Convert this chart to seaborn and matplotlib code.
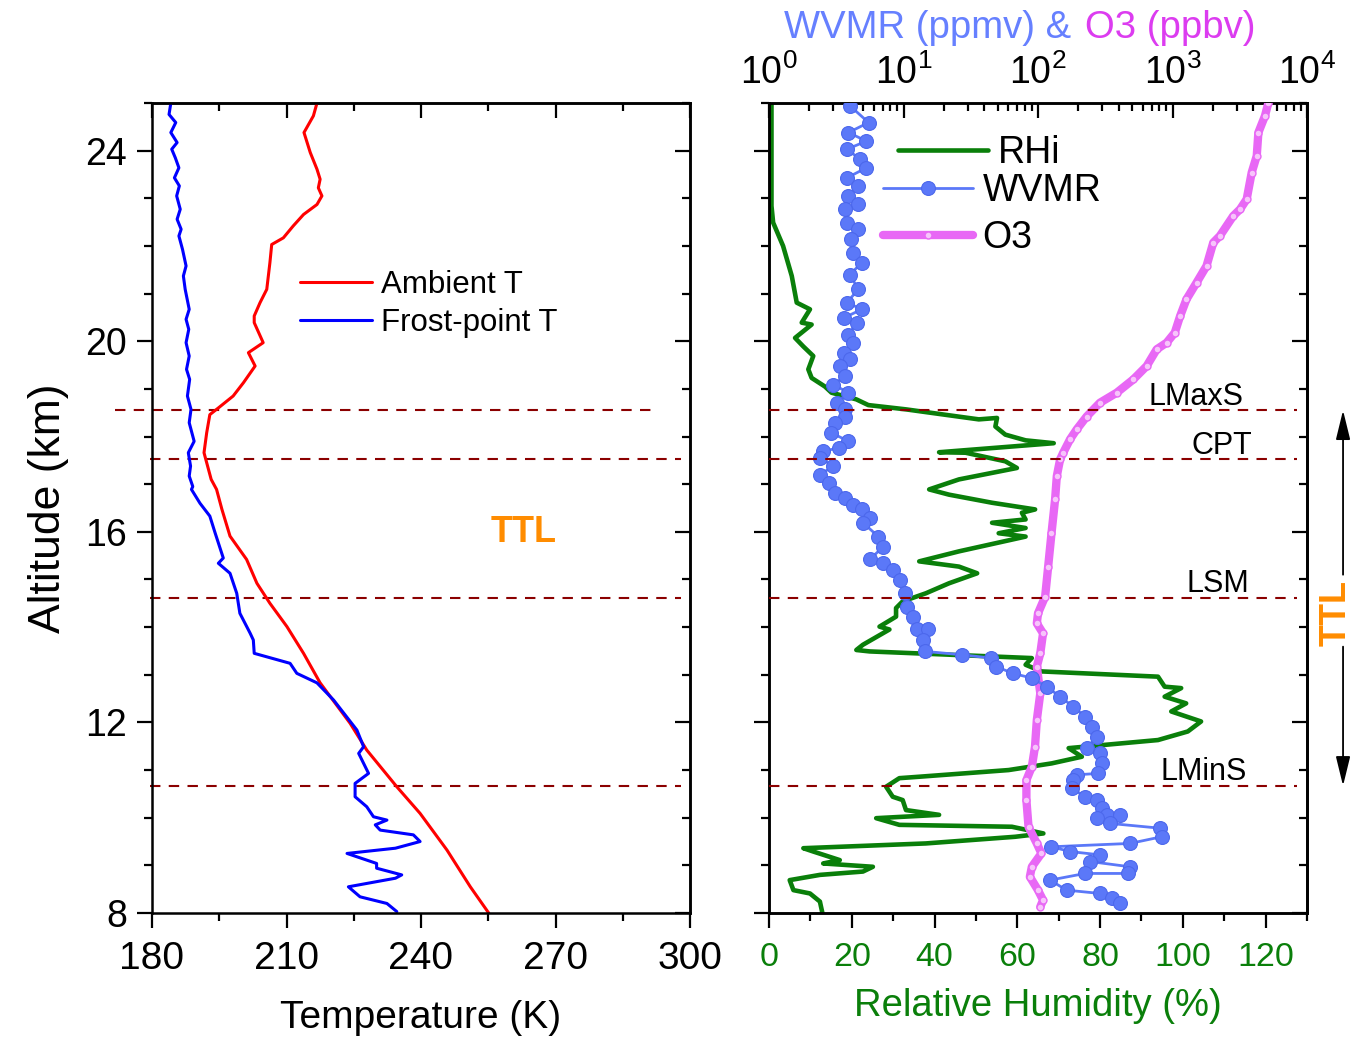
import matplotlib
matplotlib.use("Agg")
import matplotlib.pyplot as plt
import pandas as pd
import seaborn as sns
from matplotlib.ticker import MultipleLocator, NullFormatter, LogLocator

# ---------------- profile data ----------------
# Ambient temperature (K) vs altitude (km)
amb_alt = [8.0, 8.55, 9.32, 10.09, 10.65, 11.42, 11.98, 12.83, 13.45, 14.01, 14.50,
           14.92, 15.42, 15.91, 16.47, 16.89, 17.10, 17.52, 17.66, 18.08, 18.46,
           18.60, 18.85, 19.13, 19.48, 19.76, 19.97, 20.39, 20.53, 20.81, 21.09,
           21.65, 22.03, 22.17, 22.42, 22.66, 22.87, 23.05, 23.22, 23.40, 23.61,
           23.96, 24.38, 24.73, 25.0]
amb_t = [255.1, 251.0, 245.8, 239.8, 234.6, 227.9, 224.2, 217.5, 213.8, 210.1, 206.3,
         203.4, 201.1, 197.4, 195.6, 194.4, 193.2, 192.0, 191.6, 192.2, 192.9,
         194.8, 198.1, 200.4, 203.0, 201.5, 204.8, 202.8, 202.8, 204.1, 205.6,
         206.3, 206.7, 209.3, 211.5, 213.8, 216.8, 217.9, 217.1, 217.5, 216.8,
         215.3, 213.9, 216.0, 216.8]

# Frost-point temperature (K) vs altitude (km)
fp_alt = [8.03, 8.20, 8.34, 8.55, 8.73, 8.80, 8.94, 9.04, 9.25, 9.36, 9.50, 9.64,
          9.74, 9.85, 9.95, 10.02, 10.23, 10.44, 10.72, 10.93, 11.35, 11.49, 11.84,
          12.47, 12.83, 13.03, 13.24, 13.45, 13.73, 13.87, 14.29, 14.71, 15.13,
          15.34, 15.45, 15.97, 16.33, 16.60, 16.89, 16.95, 17.17, 17.38, 17.66,
          17.90, 18.29, 18.57, 18.85, 19.20, 19.41, 19.69, 19.97, 20.25, 20.46,
          20.67, 21.09, 21.37, 21.58, 21.93, 22.21, 22.35, 22.56, 22.77, 23.05,
          23.26, 23.43, 23.64, 23.85, 24.03, 24.17, 24.38, 24.59, 24.76, 25.0]
fp_t = [234.6, 232.4, 226.4, 223.8, 234.3, 235.7, 230.1, 230.1, 223.5, 234.3, 239.8, 238.3,
        230.9, 229.8, 232.4, 229.4, 227.9, 225.3, 225.3, 228.3, 226.1, 227.2, 225.7,
        220.5, 216.8, 212.3, 210.8, 202.8, 202.6, 201.9, 199.6, 198.9, 197.4,
        194.8, 195.9, 194.1, 192.9, 190.7, 188.8, 189.1, 188.3, 188.6, 188.1,
        189.4, 188.3, 188.7, 187.9, 188.4, 187.7, 188.3, 187.6, 188.2, 187.6,
        188.3, 187.4, 187.0, 187.6, 186.8, 186.0, 186.5, 185.6, 186.3, 185.5,
        186.1, 185.0, 186.0, 185.2, 184.4, 185.6, 184.2, 185.3, 183.8, 184.2]

# Relative humidity over ice (%)
rhi_alt = [25.0, 22.84, 22.49, 22.0, 21.37, 20.81, 20.67, 20.39, 20.35, 20.07, 19.89,
           19.69, 19.41, 19.23, 19.05, 18.92, 18.78, 18.66, 18.57, 18.36, 18.39,
           18.21, 18.04, 17.92, 17.86, 17.67, 17.66, 17.48, 17.34, 17.10, 16.89,
           16.78, 16.61, 16.47, 16.40, 16.26, 16.19, 16.08, 15.97, 15.90, 15.59,
           15.38, 15.27, 15.13, 14.92, 14.71, 14.54, 14.40, 14.22, 14.01, 13.95,
           13.63, 13.52, 13.49, 13.35, 13.21, 13.07, 12.96, 12.75, 12.72, 12.54,
           12.40, 12.23, 12.02, 11.81, 11.63, 11.46, 11.28, 11.14, 11.0, 10.86,
           10.83, 10.65, 10.44, 10.37, 10.16, 10.06, 9.99, 9.85, 9.81, 9.67, 9.60,
           9.46, 9.36, 9.29, 9.11, 9.04, 8.97, 8.87, 8.80, 8.69, 8.48, 8.41, 8.24, 8.0]
rhi_val = [0.6, 0.6, 1.0, 3.4, 5.5, 6.7, 9.9, 7.9, 10.3, 6.3, 8.3,
           10.7, 9.5, 10.3, 13.5, 15.1, 21.1, 24.0, 33.1, 50.7, 55.1,
           54.7, 57.1, 62.0, 68.8, 41.1, 47.5, 57.1, 59.9, 45.9, 38.7,
           43.5, 53.9, 64.3, 61.1, 62.0, 53.9, 62.0, 55.5, 62.0, 45.9,
           36.3, 45.9, 50.3, 43.5, 37.9, 32.3, 30.7, 30.7, 26.7, 29.1,
           22.7, 21.1, 24.3, 63.5, 62.0, 65.9, 94.0, 95.6, 99.6, 95.6,
           100.8, 97.2, 104.4, 101.2, 94.0, 72.4, 75.6, 68.3, 57.9, 36.3,
           31.5, 28.3, 29.9, 32.3, 33.1, 41.1, 25.9, 31.5, 58.7, 66.3, 59.5,
           37.9, 8.3, 10.7, 17.1, 13.1, 25.1, 22.7, 12.3, 5.0, 5.9, 9.9, 12.3, 12.9]

# Water vapour mixing ratio (ppmv)
wv_alt = [24.94, 24.59, 24.38, 24.20, 24.03, 23.82, 23.64, 23.43, 23.26, 23.05, 22.87,
          22.77, 22.49, 22.35, 22.14, 21.86, 21.65, 21.40, 21.09, 20.81, 20.67, 20.49,
          20.39, 20.14, 19.97, 19.76, 19.62, 19.48, 19.27, 19.09, 18.92, 18.71, 18.57,
          18.42, 18.29, 18.08, 17.90, 17.76, 17.69, 17.55, 17.38, 17.20, 17.03, 16.82,
          16.71, 16.57, 16.47, 16.29, 16.19, 15.90, 15.69, 15.42, 15.34, 15.20, 14.99,
          14.71, 14.43, 14.22, 13.95, 13.95, 13.73, 13.49, 13.42, 13.35, 13.17, 13.03,
          12.93, 12.75, 12.54, 12.33, 12.12, 11.91, 11.70, 11.46, 11.35, 11.14, 10.93,
          10.90, 10.79, 10.62, 10.44, 10.37, 10.20, 10.06, 10.06, 9.99, 9.88, 9.78,
          9.60, 9.46, 9.39, 9.29, 9.22, 9.08, 8.97, 8.83, 8.83, 8.69, 8.48, 8.41, 8.31, 8.20]
wv_val = [4.0, 5.5, 3.9, 5.3, 3.8, 4.75, 5.3, 3.8, 4.6, 3.9, 4.6,
          3.7, 3.8, 4.6, 4.1, 4.2, 4.9, 4.0, 4.6, 3.8, 4.9, 3.6,
          4.5, 3.9, 4.2, 3.6, 4.0, 3.4, 3.7, 3.0, 3.9, 3.2, 3.7,
          3.7, 3.1, 2.9, 3.9, 3.3, 2.5, 2.4, 3.0, 2.4, 2.8, 3.1,
          3.7, 4.2, 4.9, 5.6, 5.0, 6.5, 7.1, 5.6, 7.1, 8.4, 9.4,
          10.3, 10.6, 11.8, 12.5, 15.3, 14.0, 14.5, 27, 45, 49, 65,
          90, 116, 146, 183, 224, 250, 273, 230, 289, 298, 281,
          194, 183, 178, 224, 273, 298, 324, 407, 273, 343, 807,
          830, 483, 126, 173, 289, 244, 483, 469, 224, 123, 163, 289, 353, 407]

# Ozone (ppbv)
o3_alt = [25.0, 24.73, 24.38, 23.89, 23.54, 22.98, 22.77, 22.63, 22.21, 22.07, 21.58,
          21.23, 20.88, 20.53, 20.18, 19.97, 19.83, 19.48, 19.20, 18.92, 18.71, 18.42,
          18.15, 17.94, 17.66, 17.52, 17.17, 16.68, 15.97, 15.27, 14.64, 14.29, 14.08,
          13.87, 13.45, 13.17, 12.61, 12.05, 11.49, 11.07, 10.79, 10.37, 9.81, 9.46,
          9.25, 8.97, 8.76, 8.48, 8.27, 8.13]
o3_val = [5155, 4870, 4350, 4230, 3880, 3560, 3180, 2830, 2250, 2010, 1790,
          1510, 1270, 1140, 1040, 905, 763, 643, 512, 385, 289, 230,
          194, 173, 154, 146, 138, 134, 126, 119, 113, 100, 98,
          109, 104, 98, 104, 98, 95, 90, 82, 82, 85, 98,
          106, 90, 87, 100, 109, 104]

# Tropopause-layer reference levels (km)
level_alt = [18.55, 17.52, 14.62, 10.67]
level_names = ["LMaxS", "CPT", "LSM", "LMinS"]

# ---------------- style ----------------
sns.set_style("ticks")
plt.rcParams["font.family"] = ["Liberation Sans", "DejaVu Sans"]
plt.rcParams["mathtext.fontset"] = "custom"
plt.rcParams["mathtext.rm"] = "Liberation Sans"
plt.rcParams["mathtext.it"] = "Liberation Sans:italic"
plt.rcParams["mathtext.bf"] = "Liberation Sans:bold"
plt.rcParams["axes.linewidth"] = 1.8
for key in ("text.color", "axes.labelcolor", "xtick.color", "ytick.color",
            "axes.edgecolor"):
    plt.rcParams[key] = "black"

RED, BLUE = "#ff0000", "#0000ff"
GREEN = "#0a7f0a"
WVC = "#5b78f8"
O3C = "#e868f5"
O3T = "#dc3cf0"
ORANGE = "#ff8c00"
DASH = "#8b0000"

fig = plt.figure(figsize=(13.52, 10.37), dpi=100)
W, H = 1352.0, 1037.0
axL = fig.add_axes([152 / W, 1 - 913 / H, 538 / W, 810 / H])
axR = fig.add_axes([769 / W, 1 - 913 / H, 538 / W, 810 / H])

TL_MAJ, TL_MIN, TW = 11, 6, 1.6


def style_y(ax, labels=True, size=27):
    ax.set_ylim(8, 25)
    ax.yaxis.set_major_locator(MultipleLocator(4))
    ax.yaxis.set_minor_locator(MultipleLocator(1))
    ax.tick_params(axis="y", which="both", direction="out", left=True, right=False,
                   labelleft=labels, width=TW, labelsize=size, pad=7)
    ax.tick_params(axis="y", which="major", length=TL_MAJ)
    ax.tick_params(axis="y", which="minor", length=TL_MIN)
    sec = ax.secondary_yaxis("right")
    sec.yaxis.set_major_locator(MultipleLocator(4))
    sec.yaxis.set_minor_locator(MultipleLocator(1))
    sec.yaxis.set_major_formatter(NullFormatter())
    sec.tick_params(which="both", direction="in", width=TW)
    sec.tick_params(which="major", length=TL_MAJ)
    sec.tick_params(which="minor", length=TL_MIN)
    sec.spines["right"].set_linewidth(1.8)


# ---------------- left panel: temperature ----------------
amb = pd.DataFrame({"alt": amb_alt, "T": amb_t})
fp = pd.DataFrame({"alt": fp_alt, "T": fp_t})
sns.lineplot(data=amb, x="T", y="alt", sort=False, estimator=None, orient="y",
             color=RED, lw=2.2, ax=axL, label="Ambient T")
sns.lineplot(data=fp, x="T", y="alt", sort=False, estimator=None, orient="y",
             color=BLUE, lw=2.2, ax=axL, label="Frost-point T")

axL.set_xlim(180, 300)
axL.xaxis.set_major_locator(MultipleLocator(30))
axL.xaxis.set_minor_locator(MultipleLocator(15))
axL.tick_params(axis="x", which="both", direction="out", bottom=True, top=False,
                width=TW, labelsize=28, pad=9)
axL.tick_params(axis="x", which="major", length=TL_MAJ)
axL.tick_params(axis="x", which="minor", length=TL_MIN)
secx = axL.secondary_xaxis("top")
secx.xaxis.set_major_locator(MultipleLocator(30))
secx.xaxis.set_minor_locator(MultipleLocator(15))
secx.xaxis.set_major_formatter(NullFormatter())
secx.tick_params(which="both", direction="in", width=TW)
secx.tick_params(which="major", length=TL_MAJ)
secx.tick_params(which="minor", length=TL_MIN)
style_y(axL)
axL.set_xlabel("Temperature (K)", fontsize=28, labelpad=17)
axL.set_ylabel("Altitude (km)", fontsize=32, labelpad=12)

# reference levels in the temperature panel
left_spans = [(171.7, 291.2), (179.5, 297.9), (179.5, 297.9), (179.5, 297.9)]
for y, (x0, x1) in zip(level_alt, left_spans):
    axL.plot([x0, x1], [y, y], ls=(0, (5, 4)), color=DASH, lw=1.5, clip_on=False, zorder=1)

axL.text(262.8, 15.98, "TTL", color=ORANGE, fontsize=26, fontweight="bold",
         ha="center", va="center")

axL.legend(loc="center left", bbox_to_anchor=(0.275, 0.752), frameon=False,
           fontsize=22.5, handlelength=2.3, handletextpad=0.28, labelspacing=0.25,
           borderpad=0, borderaxespad=0)

# ---------------- right panel: humidity, WVMR, ozone ----------------
rhi = pd.DataFrame({"alt": rhi_alt, "RH": rhi_val})
sns.lineplot(data=rhi, x="RH", y="alt", sort=False, estimator=None, orient="y",
             color=GREEN, lw=3.3, ax=axR, label="RHi", zorder=2)
axR.set_xlim(0, 130)
axR.xaxis.set_major_locator(MultipleLocator(20))
axR.xaxis.set_minor_locator(MultipleLocator(10))
axR.tick_params(axis="x", which="both", direction="out", width=TW, labelsize=24.5,
                labelcolor=GREEN, pad=10)
axR.tick_params(axis="x", which="major", length=TL_MAJ)
axR.tick_params(axis="x", which="minor", length=TL_MIN)
style_y(axR, labels=False)
axR.set_ylabel("")
axR.set_xlabel("Relative Humidity (%)", fontsize=27.5, color=GREEN, labelpad=11)

ax2 = axR.twiny()
ax2.set_xscale("log")
ax2.set_xlim(1, 1e4)
wv = pd.DataFrame({"alt": wv_alt, "v": wv_val})
o3 = pd.DataFrame({"alt": o3_alt, "v": o3_val})
sns.lineplot(data=o3, x="v", y="alt", sort=False, estimator=None, orient="y",
             color=O3C, lw=6, marker="o", markersize=5, markerfacecolor="#f7c4fb",
             markeredgecolor=O3C, markeredgewidth=1.0, ax=ax2, label="O3", zorder=3)
sns.lineplot(data=wv, x="v", y="alt", sort=False, estimator=None, orient="y",
             color=WVC, lw=2.0, marker="o", markersize=10, markerfacecolor=WVC,
             markeredgecolor="#4c68ec", markeredgewidth=0.8, ax=ax2, label="WVMR", zorder=4)
ax2.set_ylim(8, 25)
ax2.xaxis.set_major_locator(LogLocator(base=10, numticks=10))
ax2.xaxis.set_minor_locator(LogLocator(base=10, subs=range(2, 10), numticks=20))
ax2.tick_params(axis="x", which="both", direction="in", width=TW, labelsize=27, pad=8)
ax2.tick_params(axis="x", which="major", length=TL_MAJ)
ax2.tick_params(axis="x", which="minor", length=TL_MIN)
ax2.set_xlabel("")
ax2.set_ylabel("")

# reference levels and their names
for y in level_alt:
    ax2.plot([0, 0.9815], [y, y], transform=ax2.get_yaxis_transform(),
             ls=(0, (5, 4)), color=DASH, lw=1.5, zorder=5)
name_x = [114.6, 116.8, 116.1, 115.4]
for y, name, x in zip(level_alt, level_names, name_x):
    axR.annotate(name, xy=(x, y), xytext=(0, 4), textcoords="offset points",
                 ha="right", va="baseline", fontsize=22, color="black")

# TTL extent on the right margin
ytr = axR.get_yaxis_transform()
arrow_kw = dict(arrowstyle="-|>,head_length=0.9,head_width=0.22", color="black",
                lw=1.3, mutation_scale=20, shrinkA=0, shrinkB=0)
axR.annotate("", xy=(1.067, level_alt[0]), xytext=(1.067, 15.10), xycoords=ytr,
             textcoords=ytr, arrowprops=arrow_kw, annotation_clip=False)
axR.annotate("", xy=(1.067, level_alt[3]), xytext=(1.067, 13.59), xycoords=ytr,
             textcoords=ytr, arrowprops=arrow_kw, annotation_clip=False)
axR.text(1.054, 14.29, "TTL", transform=ytr, rotation=90, ha="center", va="center",
         color=ORANGE, fontsize=26, fontweight="bold", clip_on=False)

# legends
if axR.get_legend() is not None:
    axR.get_legend().remove()
h_r, l_r = axR.get_legend_handles_labels()
h_2, l_2 = ax2.get_legend_handles_labels()
hmap = dict(zip(l_2, h_2))
leg1 = ax2.legend(h_r, l_r, loc="center left", bbox_to_anchor=(0.240, 0.938),
                  frameon=False, fontsize=27, handlelength=2.4, handletextpad=0.25,
                  borderpad=0, borderaxespad=0)
ax2.add_artist(leg1)
ax2.legend([hmap["WVMR"], hmap["O3"]], ["WVMR", "O3"], loc="center left",
           bbox_to_anchor=(0.212, 0.862), frameon=False, fontsize=27,
           handlelength=2.4, handletextpad=0.25, labelspacing=0.3,
           borderpad=0, borderaxespad=0)

# two-coloured top title
fig.text(1071 / W, 1 - 38 / H, "WVMR (ppmv) &", ha="right", va="baseline",
         color="#6680ff", fontsize=27.5)
fig.text(1085 / W, 1 - 38 / H, "O3 (ppbv)", ha="left", va="baseline",
         color=O3T, fontsize=27.5)

fig.savefig("out.png", dpi=100)
